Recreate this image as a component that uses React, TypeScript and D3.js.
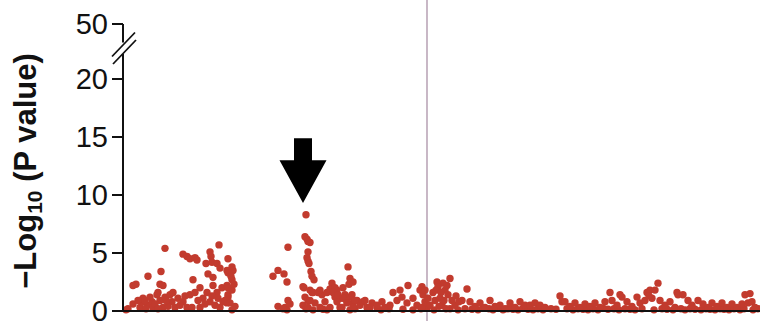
import React, { useEffect } from "react";
import * as d3 from "d3";

// Tick values of the y axis (axis is broken between 20 and 50)
const yTicks = [0, 5, 10, 15, 20, 50];

// Position (arbitrary units along region) and -log10(P)
const segA: [number, number][] = [
  [42,5.4],[13,2.3],[10,2.2],[25,3.0],[38,3.4],[37,2.3],[40,2.2],[10,0.6],[5,0.2],[3,0.1],[20,1.1],[24,0.5],[29,0.8],[30,0.3],[34,1.4],[35,1.6],[37,0.9],[42,1.2],[47,1.4],[49,0.8],[52,0.3],[55,1.1],[60,0.8],[64,0.3],[67,1.4],[70,2.7],[72,1.6],[60,4.9],[64,4.7],[67,4.5],[72,4.6],[74,4.4],[83,4.1],[87,5.1],[88,4.7],[89,4.2],[94,4.1],[96,5.7],[85,3.2],[90,2.9],[97,3.7],[104,3.5],[77,2.0],[80,1.1],[84,1.6],[87,0.8],[90,2.2],[94,1.6],[95,1.1],[99,2.0],[100,0.8],[104,2.2],[105,1.4],[97,0.3],[77,0.3],[69,0.3],[17,0.3],[40,0.3],[45,0.4],[105,4.5],[109,3.8],[110,3.5],[105,3.3],[109,2.7],[105,2.0],[109,1.8],[105,1.2],[104,0.7],[109,0.1],[108,3.0],[111,2.3],[19,0.8],[22,0.9],[27,1.2],[32,0.6],[15,0.9],[23,0.2],[35,0.2],[43,0.9],[57,0.5],[62,1.3],[75,0.9],[82,0.6],[89,1.3],[92,0.5],[102,0.9],[107,0.7],[112,0.4],[50,1.6]
];

const segB: [number, number][] = [
  [165,5.5],[155,3.5],[150,3.0],[161,3.2],[164,2.5],[165,0.9],[155,0.4],[162,0.3],[164,0.1],[167,0.6],[160,0.2]
];

const segC: [number, number][] = [
  [183,8.3],[182,6.4],[184,6.2],[185,6.0],[187,5.9],[185,5.1],[184,4.6],[185,4.3],[186,4.1],[188,3.4],[189,3.0],[191,2.7],[181,2.0],[182,1.2],[189,1.6],[185,0.9],[180,0.5],[183,0.2],
  [180,2.1],[187,1.8],[190,1.6],[195,1.6],[199,1.4],[204,1.6],[209,2.4],[207,1.9],[214,1.8],[212,1.2],[217,1.1],[222,1.4],[224,0.8],[227,1.2],[230,0.7],[234,0.9],[237,0.5],[240,0.8],[244,0.3],[249,0.7],[254,0.3],[192,0.7],[197,0.3],[202,0.8],[207,0.3],[217,0.3],[187,0.9],[185,0.3],[190,0.1],[204,0.1],[227,0.1],
  [225,3.8],[227,2.8],[226,2.3],[230,2.5],[197,1.8],[220,2.0]
];

const segC2: [number, number][] = [
  [212,2.0],[210,1.6],[215,1.4],[220,1.1],[214,0.8],[224,0.7],[229,1.4],[232,0.9],[219,0.3],[230,0.3],[242,0.9],[247,0.3],[254,0.5],[259,0.8],[262,0.3],[267,0.5],[270,1.6],[274,0.9],[277,1.8],[279,1.2],[285,2.2],[284,0.7],[290,1.1],[294,0.5],[297,1.8],[300,1.4],[299,0.3],[302,0.8],[299,2.1],[302,1.8]
];

const segD: [number, number][] = [
  [310,1.6],[314,2.5],[320,2.4],[327,2.8],[315,2.1],[317,1.1],[322,1.8],[312,0.9],[307,0.5],[305,1.1],[319,0.5],[325,1.4],[329,0.9],[323,0.2],[332,0.5],[344,1.9],[339,0.9],[347,0.8],[352,0.4],[357,0.7],[362,0.3],[367,0.9],[372,0.4],[377,0.5],[382,0.2],[387,0.7],[392,0.3],[397,0.8],[402,0.5],[407,0.5],[412,0.7],[417,0.5],[422,0.3],[313,1.8],[318,1.6],[324,2.2],[321,0.9],[316,0.4],[333,1.3],[336,0.8]
];

const segE: [number, number][] = [
  [437,1.3],[439,0.8],[442,0.8],[447,0.4],[452,0.7],[457,0.3],[462,0.6],[467,0.4],[472,0.7],[477,0.3],[482,0.8],[487,1.6],[489,0.9],[494,0.5],[497,1.4],[499,1.2],[504,0.8],[509,0.4],[514,1.2],[517,0.7],[522,0.9],[524,1.6],[527,1.8],[529,1.1]
];

const segF: [number, number][] = [
  [535,2.4],[532,1.8],[526,1.3],[537,0.9],[542,0.5],[547,0.8],[554,1.6],[555,1.4],[560,1.4],[565,0.9],[569,0.5],[575,0.9],[580,0.6],[585,0.3],[589,0.7],[594,0.4],[599,0.7],[604,0.3],[609,0.6],[614,0.3],[619,0.6],[622,1.4],[625,0.7],[627,1.5],[629,0.8],[632,0.3]
];

const baseline: [number, number][] = [
  [200,0.15],[232,0.2],[258,0.1],[266,0.2],[280,0.15],[290,0.1],[298,0.2],[304,0.3],[311,0.1],[327,0.2],[335,0.1],[342,0.2],[349,0.15],[355,0.1],[360,0.25],[366,0.2],[370,0.1],[376,0.25],[380,0.1],[385,0.2],[390,0.15],[395,0.1],[400,0.25],[405,0.15],[410,0.1],[415,0.2],[420,0.1],[428,0.2],[433,0.15],[444,0.2],[450,0.1],[455,0.2],[460,0.15],[465,0.1],[470,0.2],[475,0.1],[480,0.25],[485,0.15],[491,0.2],[496,0.1],[502,0.2],[507,0.15],[512,0.1],[519,0.2],[531,0.1],[539,0.2],[544,0.15],[550,0.1],[552,0.3],[558,0.2],[562,0.1],[567,0.2],[572,0.15],[578,0.1],[583,0.2],[587,0.15],[592,0.1],[597,0.2],[601,0.15],[606,0.1],[611,0.2],[617,0.1],[621,0.2],[630,0.1],[635,0.2]
];

const geneBoundary = 304; // vertical reference line position
const arrowPos = 180;
const arrowTop = 14.9;
const arrowHeadBase = 13.0;
const arrowTip = 9.3;

const W = 760;
const H = 321;
const DOT = "#c23b2e";

export default function App() {
  useEffect(() => {
    document.body.style.margin = "0";
  }, []);

  const x = d3.scaleLinear().domain([0, 637]).range([123, 760]);
  const y = d3.scaleLinear().domain([0, 20, 50]).range([311, 79, 24]);

  const axisX = x(0);
  const points = [...baseline, ...segA, ...segB, ...segC, ...segC2, ...segD, ...segE, ...segF];

  const ax = x(arrowPos);
  const arrowPath = d3.path();
  arrowPath.moveTo(ax - 9, y(arrowTop));
  arrowPath.lineTo(ax + 9, y(arrowTop));
  arrowPath.lineTo(ax + 9, y(arrowHeadBase));
  arrowPath.lineTo(ax + 23.5, y(arrowHeadBase));
  arrowPath.lineTo(ax, y(arrowTip));
  arrowPath.lineTo(ax - 23.5, y(arrowHeadBase));
  arrowPath.lineTo(ax - 9, y(arrowHeadBase));
  arrowPath.closePath();

  const breakCenters = [44.5, 52];

  return (
    <svg
      width={W}
      height={H}
      style={{ position: "absolute", left: 0, top: 0, background: "#fff" }}
      fontFamily="'Liberation Sans', Arial, sans-serif"
    >
      <rect x={0} y={0} width={W} height={H} fill="#fff" />
      {/* vertical reference line */}
      <line x1={x(geneBoundary)} x2={x(geneBoundary)} y1={0} y2={H} stroke="#bba6b8" strokeWidth={1.6} />

      {/* dots */}
      {points.map((p, i) => (
        <circle key={i} cx={x(p[0])} cy={y(p[1])} r={3.7} fill={DOT} />
      ))}

      {/* x axis line */}
      <line x1={axisX} x2={W} y1={y(0)} y2={y(0)} stroke="#111" strokeWidth={2} />

      {/* y axis */}
      <line x1={axisX} x2={axisX} y1={y(50)} y2={breakCenters[0] - 2} stroke="#111" strokeWidth={2} />
      <line x1={axisX} x2={axisX} y1={breakCenters[1] + 2} y2={y(0) + 1} stroke="#111" strokeWidth={2} />
      {breakCenters.map((c, i) => (
        <line key={i} x1={axisX - 11 + i} y1={c + 12} x2={axisX + 12 + i} y2={c - 12} stroke="#111" strokeWidth={1.8} />
      ))}
      {yTicks.map((t) => (
        <g key={t}>
          <line x1={axisX - 11} x2={axisX} y1={y(t)} y2={y(t)} stroke="#111" strokeWidth={2} />
          <text x={axisX - 15} y={y(t)} dy="0.36em" textAnchor="end" fontSize={29} fill="#111">
            {t}
          </text>
        </g>
      ))}

      {/* y axis title */}
      <text
        transform={`translate(36,171) rotate(-90)`}
        textAnchor="middle"
        fontSize={31}
        fontWeight="bold"
        fill="#111"
      >
        −Log
        <tspan fontSize={21} dy={6}>10</tspan>
        <tspan dy={-6}> (P value)</tspan>
      </text>

      {/* arrow */}
      <path d={arrowPath.toString()} fill="#000" />
    </svg>
  );
}
